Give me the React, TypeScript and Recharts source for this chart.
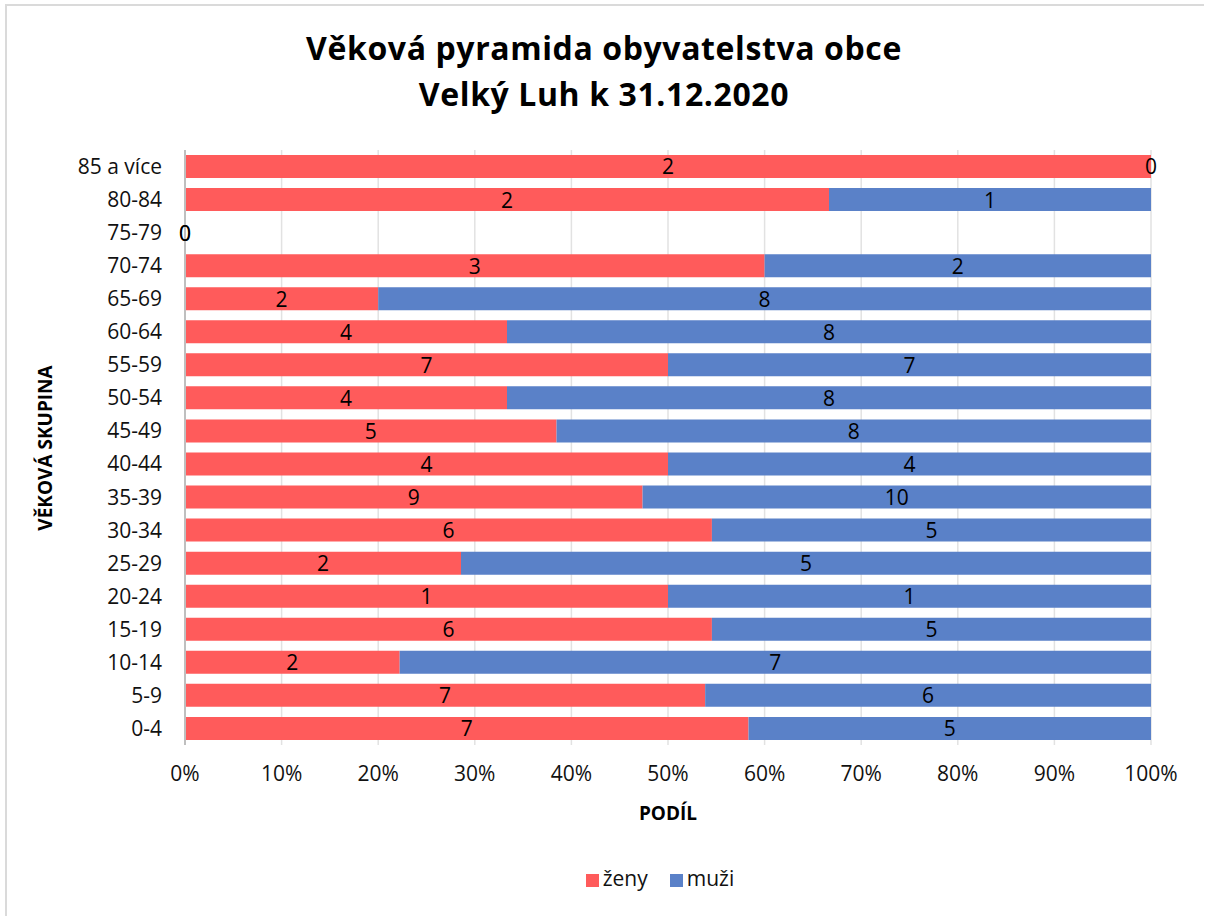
import { BarChart, Bar, XAxis, YAxis, CartesianGrid, Legend, LabelList } from "recharts";

// věkové skupiny zdola nahoru
const ageGroups = [
  "0-4", "5-9", "10-14", "15-19", "20-24", "25-29", "30-34", "35-39", "40-44",
  "45-49", "50-54", "55-59", "60-64", "65-69", "70-74", "75-79", "80-84", "85 a více",
];
const zeny = [7, 7, 2, 6, 1, 2, 6, 9, 4, 5, 4, 7, 4, 2, 3, 0, 2, 2];
const muzi = [5, 6, 7, 5, 1, 5, 5, 10, 4, 8, 8, 7, 8, 8, 2, 0, 1, 0];
const xTicks = [0, 0.1, 0.2, 0.3, 0.4, 0.5, 0.6, 0.7, 0.8, 0.9, 1];

const FONT = "'Open Sans', 'Noto Sans', sans-serif";
const RED = "#FF5B5B";
const BLUE = "#5A81C8";

const data = ageGroups.map((age, i) => ({ age, zeny: zeny[i], muzi: muzi[i] }));

// popisek do středu segmentu, i když má segment nulovou šířku
function CenterLabel(props: any) {
  const { x, y, width, height, value } = props;
  if (value === undefined || value === null) return null;
  return (
    <text
      x={Number(x) + Number(width) / 2}
      y={Number(y) + Number(height) / 2}
      textAnchor="middle"
      dominantBaseline="central"
      fill="#000"
      fontSize={21}
      fontFamily={FONT}
    >
      {value}
    </text>
  );
}

export default function App() {
  return (
    <div style={{ position: "absolute", left: 0, top: 0, width: 1206, height: 918, background: "#fff", fontFamily: FONT }}>
      {/* rámeček grafu */}
      <div
        style={{
          position: "absolute",
          left: 5,
          top: 4,
          width: 1199,
          height: 912,
          borderLeft: "2px solid #dadada",
          borderTop: "2px solid #dadada",
          boxSizing: "border-box",
        }}
      />
      <div
        style={{
          position: "absolute",
          left: 0,
          top: 25,
          width: 1208,
          textAlign: "center",
          fontWeight: 700,
          fontSize: 32,
          lineHeight: "46px",
          color: "#000",
          letterSpacing: 0.6,
        }}
      >
        Věková pyramida obyvatelstva obce
        <br />
        Velký Luh k 31.12.2020
      </div>

      <BarChart
        width={1206}
        height={918}
        data={data}
        layout="vertical"
        stackOffset="expand"
        barCategoryGap="15%"
        margin={{ top: 150, right: 55, bottom: 143, left: 0 }}
        style={{ position: "absolute", left: 0, top: 0 }}
      >
        <CartesianGrid horizontal={false} stroke="#e2e2e2" strokeWidth={1.5} />
        <XAxis
          type="number"
          domain={[0, 1]}
          ticks={xTicks}
          tickFormatter={(v: number) => `${Math.round(v * 100)}%`}
          axisLine={false}
          tickLine={false}
          tickSize={0}
          tickMargin={21}
          height={30}
          tick={{ fontSize: 21, fill: "#111", fontFamily: FONT }}
        />
        <YAxis
          type="category"
          dataKey="age"
          reversed
          width={185}
          axisLine={{ stroke: "#bfbfbf", strokeWidth: 2 }}
          tickLine={false}
          tickSize={0}
          tickMargin={23}
          tick={{ fontSize: 21, fill: "#111", fontFamily: FONT }}
        />
        <Legend
          layout="horizontal"
          align="center"
          verticalAlign="middle"
          iconType="square"
          iconSize={13}
          itemSorter={(item: any) => (item.dataKey === "zeny" ? 0 : 1)}
          wrapperStyle={{ top: 864, left: 0, width: 1330, fontFamily: FONT, fontSize: 21 }}
          formatter={(value: string, _entry: any, index: number) => (
            <span style={{ color: "#111", marginRight: index === 0 ? 12 : 0 }}>{value}</span>
          )}
        />
        <Bar dataKey="zeny" name="ženy" stackId="a" fill={RED} minPointSize={0.01} isAnimationActive={false}>
          <LabelList dataKey="zeny" content={CenterLabel} />
        </Bar>
        <Bar dataKey="muzi" name="muži" stackId="a" fill={BLUE} minPointSize={0.01} isAnimationActive={false}>
          <LabelList dataKey="muzi" content={CenterLabel} />
        </Bar>
      </BarChart>

      <div
        style={{
          position: "absolute",
          left: 0,
          top: 800,
          width: 1336,
          textAlign: "center",
          fontWeight: 700,
          fontSize: 19,
          color: "#000",
        }}
      >
        PODÍL
      </div>
      <div
        style={{
          position: "absolute",
          left: 45 - 150,
          top: 448 - 14,
          width: 300,
          height: 28,
          lineHeight: "28px",
          textAlign: "center",
          fontWeight: 700,
          fontSize: 19,
          color: "#000",
          transform: "rotate(-90deg)",
        }}
      >
        VĚKOVÁ SKUPINA
      </div>
    </div>
  );
}
